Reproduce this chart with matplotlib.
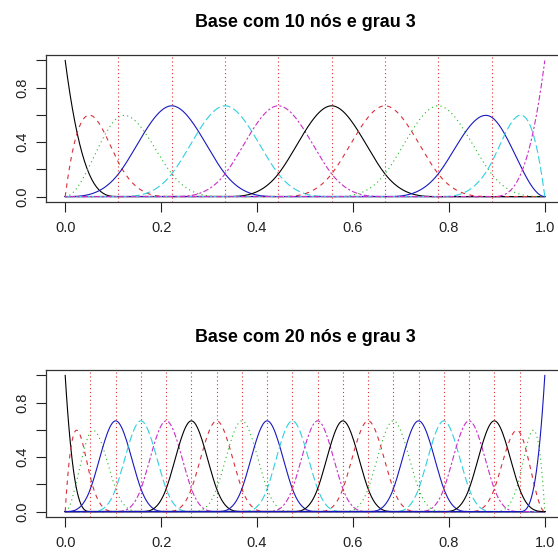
import numpy as np
from matplotlib import pyplot as plt

# number of knots (including boundaries) and degree for each panel
n_nos = [10, 20]
grau = 3
titles = ['Base com 10 nós e grau 3', 'Base com 20 nós e grau 3']

x_ticks = [0.0, 0.2, 0.4, 0.6, 0.8, 1.0]
x_labels = ['0.0', '0.2', '0.4', '0.6', '0.8', '1.0']
y_ticks = [0.0, 0.2, 0.4, 0.6, 0.8, 1.0]
y_labels = ['0.0', '', '0.4', '', '0.8', '']

# R default palette / line types for matplot
cores = ['black', '#D8303A', '#20B820', '#1818C0', '#30D0E0', '#C830C8']
tipos = ['-', (0, (4, 4)), (0, (1, 3)), '-', (0, (7, 3)), (0, (2, 2, 5, 2))]


def bspline_basis(x, knots, degree):
    """B-spline basis (with intercept) on the knots, boundary knots repeated."""
    t = np.r_[[knots[0]] * degree, knots, [knots[-1]] * degree]
    B = np.zeros((len(x), len(t) - 1))
    for i in range(len(t) - 1):
        if t[i] < t[i + 1]:
            B[:, i] = (x >= t[i]) & (x < t[i + 1])
    last = max(i for i in range(len(t) - 1) if t[i] < t[i + 1])
    B[x == t[-1], last] = 1.0
    for k in range(1, degree + 1):
        Bn = np.zeros((len(x), len(t) - 1 - k))
        for i in range(len(t) - 1 - k):
            d1 = t[i + k] - t[i]
            d2 = t[i + k + 1] - t[i + 1]
            term = np.zeros(len(x))
            if d1 > 0:
                term += (x - t[i]) / d1 * B[:, i]
            if d2 > 0:
                term += (t[i + k + 1] - x) / d2 * B[:, i + 1]
            Bn[:, i] = term
        B = Bn
    return B


plt.rcParams['font.family'] = ['Liberation Sans', 'DejaVu Sans']

fig = plt.figure(figsize=(5.58, 5.53), dpi=100)
W, H = 558.0, 553.0
boxes = [(46, 202, 564, 55), (46, 517, 564, 370)]  # left, bottom, right, top in px

x = np.linspace(0, 1, 400)
for n, titulo, (l, b, r, t) in zip(n_nos, titles, boxes):
    ax = fig.add_axes([l / W, 1 - b / H, (r - l) / W, (b - t) / H])
    nos = np.linspace(0, 1, n)
    base = bspline_basis(x, nos, grau)
    for j in range(base.shape[1]):
        ax.plot(x, base[:, j], color=cores[j % 6], linestyle=tipos[j % 6], lw=0.8)
    for k in nos[1:-1]:
        ax.axvline(k, color='#E03030', linestyle=(0, (1, 2.5)), lw=0.8)
    ax.set_xlim(-0.04, 1.04)
    ax.set_ylim(-0.04, 1.04)
    ax.set_xticks(x_ticks)
    ax.set_xticklabels(x_labels)
    ax.set_yticks(y_ticks)
    ax.set_yticklabels(y_labels, rotation=90, va='center')
    ax.tick_params(direction='out', length=7, width=0.8, labelsize=10.5, pad=5, colors='#222222')
    ax.tick_params(axis='x', pad=7)
    for s in ax.spines.values():
        s.set_linewidth(0.9)
        s.set_color('#333333')
    ax.set_title(titulo, fontsize=12.9, fontweight='bold', pad=20)

fig.savefig('out.png', dpi=100)
